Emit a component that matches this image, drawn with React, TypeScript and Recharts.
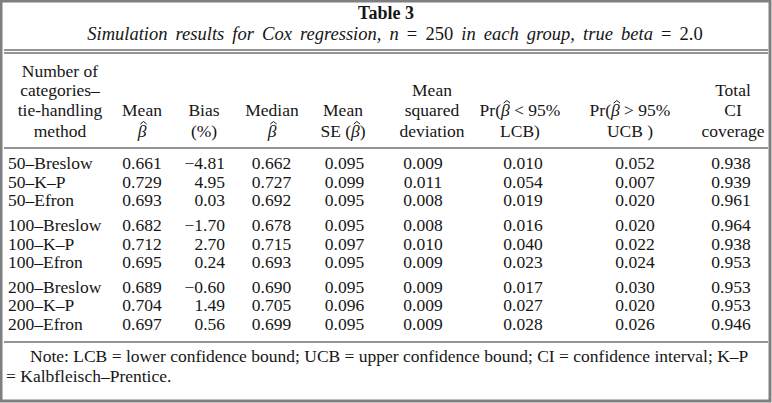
import React from "react";
import { ScatterChart, Scatter, XAxis, YAxis, Customized } from "recharts";

// rows
const methods = [
  "50–Breslow", "50–K–P", "50–Efron",
  "100–Breslow", "100–K–P", "100–Efron",
  "200–Breslow", "200–K–P", "200–Efron",
];
const categoryCounts = [50, 50, 50, 100, 100, 100, 200, 200, 200];

// columns
const meanBeta = [0.661, 0.729, 0.693, 0.682, 0.712, 0.695, 0.689, 0.704, 0.697];
const biasPct = [-4.81, 4.95, 0.03, -1.7, 2.7, 0.24, -0.6, 1.49, 0.56];
const medianBeta = [0.662, 0.727, 0.692, 0.678, 0.715, 0.693, 0.69, 0.705, 0.699];
const meanSE = [0.095, 0.099, 0.095, 0.095, 0.097, 0.095, 0.095, 0.096, 0.095];
const meanSqDev = [0.009, 0.011, 0.008, 0.008, 0.01, 0.009, 0.009, 0.009, 0.009];
const prBelowLCB = [0.01, 0.054, 0.019, 0.016, 0.04, 0.023, 0.017, 0.027, 0.028];
const prAboveUCB = [0.052, 0.007, 0.02, 0.02, 0.022, 0.024, 0.03, 0.02, 0.026];
const ciCoverage = [0.938, 0.939, 0.961, 0.964, 0.938, 0.953, 0.953, 0.953, 0.946];

// header text, 4 lines per column, bottom aligned
const headerLines = [
  ["Number of", "categories–", "tie-handling", "method"],
  ["", "", "Mean", "β̂"],
  ["", "", "Bias", "(%)"],
  ["", "", "Median", "β̂"],
  ["", "", "Mean", "SE (β̂)"],
  ["", "Mean", "squared", "deviation"],
  ["", "", "Pr(β̂ < 95%", "LCB)"],
  ["", "", "Pr(β̂ > 95%", "UCB )"],
  ["", "Total", "CI", "coverage"],
];

const title = "Table 3";
const noteLines = [
  "Note: LCB = lower confidence bound; UCB = upper confidence bound; CI = confidence interval; K–P",
  "= Kalbfleisch–Prentice.",
];

const W = 772;
const H = 403;
const FONT = "'Liberation Serif', 'Times New Roman', serif";
const FS = 17.5;
const INK = "#161616";

// layout of the columns (x anchor + alignment)
const headerX = [60, 142, 204, 272, 343, 432, 520, 630, 733];
const cellX = [8, 142, 225, 271.5, 344.5, 423, 523, 635, 731];
const cellAnchor = ["start", "middle", "end", "middle", "middle", "middle", "middle", "middle", "middle"];
const GROUP_GAP = 0.3;

const groupOf = (i: number) => Array.from(new Set(categoryCounts)).indexOf(categoryCounts[i]);
const rowPos = (i: number) => i + groupOf(i) * GROUP_GAP;
const fmt3 = (v: number) => v.toFixed(3);
const fmtBias = (v: number) => (v < 0 ? "−" : "") + Math.abs(v).toFixed(2);

const columns: { values: (string | number)[]; fmt: (v: any) => string }[] = [
  { values: methods, fmt: (v) => String(v) },
  { values: meanBeta, fmt: fmt3 },
  { values: biasPct, fmt: fmtBias },
  { values: medianBeta, fmt: fmt3 },
  { values: meanSE, fmt: fmt3 },
  { values: meanSqDev, fmt: fmt3 },
  { values: prBelowLCB, fmt: fmt3 },
  { values: prAboveUCB, fmt: fmt3 },
  { values: ciCoverage, fmt: fmt3 },
];

let ctx: CanvasRenderingContext2D | null = null;
function measure(s: string, italic = false) {
  if (!ctx) ctx = document.createElement("canvas").getContext("2d");
  if (!ctx) return s.length * FS * 0.45;
  ctx.font = `${italic ? "italic " : ""}${FS}px ${FONT}`;
  return ctx.measureText(s).width;
}

// β̂: italic β, hat drawn as a small stroke above it
function HeaderLine({ x, y, line }: { x: number; y: number; line: string }) {
  const parts = line.split("β̂");
  if (parts.length === 1) {
    return (
      <text x={x} y={y} textAnchor="middle" fontFamily={FONT} fontSize={FS} fill={INK}>
        {line}
      </text>
    );
  }
  const pre = parts[0];
  const post = parts.slice(1).join("β̂");
  const wb = measure("β", true);
  const total = measure(pre) + wb + measure(post);
  const hx = x - total / 2 + measure(pre) + wb / 2 + 1.5;
  const hy = y - 15.5;
  return (
    <g>
      <text x={x} y={y} textAnchor="middle" fontFamily={FONT} fontSize={FS} fill={INK}>
        {pre && <tspan>{pre}</tspan>}
        <tspan fontStyle="italic">β</tspan>
        {post && <tspan>{post}</tspan>}
      </text>
      <path
        d={`M${hx - 3.2},${hy + 2.6} L${hx},${hy} L${hx + 3.2},${hy + 2.6}`}
        fill="none"
        stroke={INK}
        strokeWidth={1}
      />
    </g>
  );
}

function Decor() {
  const headBase = [77, 96, 116, 137];
  const rule = (y: number, k: string) => (
    <line key={k} x1={4} x2={768} y1={y} y2={y} stroke="#2a2a2a" strokeWidth={1.1} />
  );
  return (
    <g>
      <rect x={1} y={1} width={W - 3} height={H - 3} fill="none" stroke="#7f7f7f" strokeWidth={3} />
      <text x={386} y={19} textAnchor="middle" fontFamily={FONT} fontSize={18} fontWeight="bold" fill={INK}>
        {title}
      </text>
      <text
        x={395}
        y={40}
        textAnchor="middle"
        fontFamily={FONT}
        fontSize={18.5}
        fill={INK}
        style={{ wordSpacing: 3.5 }}
      >
        <tspan fontStyle="italic">Simulation results for Cox regression, n</tspan>
        <tspan> = 250 </tspan>
        <tspan fontStyle="italic">in each group, true beta</tspan>
        <tspan> = 2.0</tspan>
      </text>
      {rule(50, "r1")}
      {rule(53, "r2")}
      {headerLines.map((lines, c) =>
        lines.map((ln, r) => (ln ? <HeaderLine key={c + "-" + r} x={headerX[c]} y={headBase[r]} line={ln} /> : null))
      )}
      {rule(148, "r3")}
      {rule(342, "r4")}
      <text x={30} y={362} fontFamily={FONT} fontSize={FS} fill={INK}>
        {noteLines[0]}
      </text>
      <text x={6} y={382} fontFamily={FONT} fontSize={FS} fill={INK}>
        {noteLines[1]}
      </text>
    </g>
  );
}

export default function App() {
  const maxPos = rowPos(methods.length - 1);
  return (
    <div style={{ position: "absolute", left: 0, top: 0, width: W, height: H, background: "#fff" }}>
      <ScatterChart width={W} height={H} margin={{ top: 163, right: 0, bottom: H - 324, left: 0 }}>
        <XAxis type="number" dataKey="x" domain={[0, W]} hide />
        <YAxis type="number" dataKey="y" domain={[0, maxPos]} reversed hide />
        <Customized component={Decor} />
        {columns.map((col, c) => (
          <Scatter
            key={c}
            isAnimationActive={false}
            data={col.values.map((v, i) => ({ x: cellX[c], y: rowPos(i), label: col.fmt(v) }))}
            shape={(p: any) => (
              <text
                x={p.cx}
                y={p.cy + 6}
                textAnchor={cellAnchor[c] as any}
                fontFamily={FONT}
                fontSize={FS}
                fill={INK}
              >
                {p.payload.label}
              </text>
            )}
          />
        ))}
      </ScatterChart>
    </div>
  );
}
